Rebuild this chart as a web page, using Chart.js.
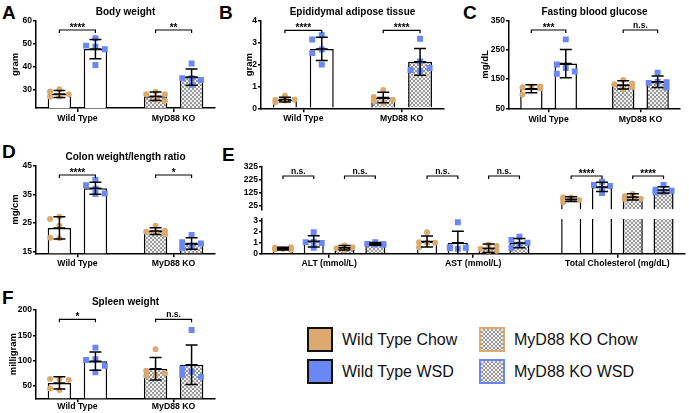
<!DOCTYPE html>
<html>
<head>
<meta charset="utf-8">
<script src="https://cdn.jsdelivr.net/npm/chart.js@4.4.1/dist/chart.umd.min.js"></script>
<style>
  body { margin: 0; background: #fff; font-family: 'Liberation Sans', Arial, sans-serif; }
  #page { position: relative; width: 689px; height: 413px; overflow: hidden; }
  #page canvas { position: absolute; }
  .tag { position: absolute; font-size: 19px; font-weight: bold; line-height: 1; color: #000; }
  .key { position: absolute; display: flex; align-items: center; height: 25px; font-size: 16px; color: #111; white-space: nowrap; }
  .sw { width: 22px; height: 21px; border: 2px solid #111; margin-right: 9px; }
  .hatch { background: repeating-conic-gradient(#9a9a9a 0 25%, #f0f0f0 0 50%) 0 0 / 4px 4px; }
</style>
</head>
<body>
<div id="page">
  <div class="tag" style="left:2px;top:2.5px">A</div>
  <div class="tag" style="left:219px;top:2.5px">B</div>
  <div class="tag" style="left:463px;top:2.5px">C</div>
  <div class="tag" style="left:2px;top:141.5px">D</div>
  <div class="tag" style="left:222px;top:145px">E</div>
  <div class="tag" style="left:2px;top:288px">F</div>
</div>
<script>
'use strict';
// =============== data ===============
const categories = ['Wild Type', 'MyD88 KO'];
const groups = ['Wild Type Chow', 'Wild Type WSD', 'MyD88 KO Chow', 'MyD88 KO WSD'];

// A - body weight (gram)
const bodyMean = [28.3, 47.7, 27.3, 35.6];
const bodySd = [1.5, 4.2, 1.8, 3.5];
const bodyPoints = [
    [30.3, 27.1, 28.1, 29.3, 27.2],
    [52.4, 49.2, 48.7, 47.6, 40.8],
    [29.2, 28.1, 28.2, 25.8, 25.3],
    [41.5, 35.1, 35.1, 34.3, 32.2]
];
const bodyTicks = [30, 40, 50, 60];
const bodyStars = ['****', '**'];

// B - epididymal adipose tissue (gram)
const fatMean = [0.40, 2.72, 0.50, 2.13];
const fatSd = [0.11, 0.53, 0.24, 0.61];
const fatPoints = [
    [0.57, 0.28, 0.40, 0.36, 0.38],
    [3.35, 3.15, 2.69, 2.53, 2.00],
    [0.84, 0.28, 0.52, 0.38, 0.35],
    [3.19, 2.15, 1.72, 1.75, 1.85]
];
const fatTicks = [0, 1, 2, 3, 4];
const fatStars = ['****', '****'];

// C - fasting blood glucose (mg/dL)
const glucoseMean = [117, 203, 130, 141];
const glucoseSd = [14, 48, 14, 20];
const glucosePoints = [
    [124, 97, 118, 121, 125],
    [286, 188, 200, 176, 168],
    [147, 116, 132, 122, 135],
    [172, 141, 137, 121, 139]
];
const glucoseTicks = [50, 150, 250, 350];
const glucoseStars = ['***', 'n.s.'];

// D - colon weight/length ratio (mg/cm)
const colonMean = [23.3, 37.1, 22.2, 17.9];
const colonSd = [3.9, 2.1, 1.2, 2.0];
const colonPoints = [
    [27.2, 26.4, 24.1, 19.7, 19.9],
    [40.0, 38.2, 35.1, 35.3, 37.0],
    [24.1, 22.0, 22.3, 21.9, 21.0],
    [20.8, 18.3, 16.6, 17.9, 16.2]
];
const colonTicks = [15, 25, 35, 45];
const colonStars = ['****', '*'];

// E - serum markers, broken axis
const serumLabels = ['ALT (mmol/L)', 'AST (mmol/L)', 'Total Cholesterol (mg/dL)'];
const altMean = [0.46, 1.13, 0.55, 0.90];
const altSd = [0.12, 0.52, 0.20, 0.12];
const altPoints = [
    [0.42, 0.55, 0.58, 0.35, 0.38],
    [1.96, 1.10, 1.05, 0.98, 0.55],
    [0.75, 0.50, 0.60, 0.35, 0.55],
    [1.05, 0.90, 0.82, 0.85, 0.88]
];
const astMean = [1.12, 1.00, 0.50, 0.97];
const astSd = [0.50, 1.06, 0.38, 0.42];
const astPoints = [
    [1.96, 1.00, 1.05, 1.00, 0.60],
    [2.88, 0.45, 0.60, 0.55, 0.50],
    [0.85, 0.45, 0.25, 0.20, 0.70],
    [1.56, 1.25, 1.00, 0.85, 0.55]
];
const cholMean = [78, 171, 95, 148];
const cholSd = [18, 35, 24, 24];
const cholPoints = [
    [90, 93, 72, 55, 75],
    [211, 185, 179, 124, 157],
    [118, 80, 82, 100, 95],
    [185, 133, 150, 142, 129]
];
const serumTopTicks = [25, 125, 225, 325];
const serumLowTicks = [0, 1, 2, 3];
const serumStars = ['n.s.', 'n.s.', 'n.s.', 'n.s.', '****', '****'];

// F - spleen weight (milligram)
const spleenMean = [56, 99, 84, 92];
const spleenSd = [12, 18, 22, 39];
const spleenPoints = [
    [64, 64, 42, 45, 62],
    [125.7, 102.7, 101.4, 77, 90],
    [122.5, 71.7, 80, 75, 70],
    [160.7, 78, 84, 68, 72]
];
const spleenTicks = [50, 100, 150, 200];
const spleenStars = ['*', 'n.s.'];

// =============== look ===============
const fam = "'Liberation Sans', Arial, sans-serif";
const tan = '#DCAA6E';
const blue = '#6987F5';
const GAP = 2.67;     // genotype group spacing, in bar steps
const E_GAP = 4.68;   // serum marker spacing, in bar steps
const page = document.getElementById('page');

function makeChecker() {
    const c = document.createElement('canvas');
    c.width = c.height = 4;
    const g = c.getContext('2d');
    g.fillStyle = '#f0f0f0';
    g.fillRect(0, 0, 4, 4);
    g.fillStyle = '#9a9a9a';
    g.fillRect(0, 0, 2, 2);
    g.fillRect(2, 2, 2, 2);
    return g.createPattern(c, 'repeat');
}
const checker = makeChecker();

// spread points sideways when they sit on top of each other
function swarm(vals, pxY, step) {
    const placed = [];
    return vals.map(v => {
        const py = v * pxY;
        let best = 0, bestD = -1;
        for (const k of [0, -1, 1]) {
            const d = Math.min(Infinity, ...placed.map(p => Math.hypot(p.px - k * step, p.py - py)));
            if (d >= step * 0.9) { best = k; break; }
            if (d > bestD) { bestD = d; best = k; }
        }
        placed.push({ px: best * step, py });
        return best * step;
    });
}

// =============== plugins ===============
const errorBars = {
    id: 'errorBars',
    afterDatasetsDraw(chart) {
        const { ctx, chartArea: a, scales: { x, y } } = chart;
        const ds = chart.data.datasets[0];
        ctx.save();
        ctx.beginPath();
        ctx.rect(a.left, a.top, a.right - a.left, a.bottom - a.top);
        ctx.clip();
        ctx.strokeStyle = '#000';
        ctx.lineWidth = 1.5;
        ds.data.forEach((d, i) => {
            const px = x.getPixelForValue(d.x);
            const hi = y.getPixelForValue(d.y + ds.sd[i]);
            const mid = y.getPixelForValue(d.y);
            const lo = y.getPixelForValue(d.y - ds.sd[i]);
            ctx.beginPath();
            ctx.moveTo(px, hi); ctx.lineTo(px, lo);
            [hi, mid, lo].forEach(py => { ctx.moveTo(px - 6, py); ctx.lineTo(px + 6, py); });
            ctx.stroke();
        });
        ctx.restore();
    }
};

const brackets = {
    id: 'brackets',
    afterDatasetsDraw(chart, args, opts) {
        if (!opts.pairs) return;
        const { ctx, chartArea: a, scales: { x } } = chart;
        const y = a.top + 9.3;
        ctx.save();
        ctx.strokeStyle = '#000';
        ctx.fillStyle = '#000';
        ctx.lineWidth = 1.2;
        ctx.textAlign = 'center';
        opts.pairs.forEach(([p, q], i) => {
            const xa = x.getPixelForValue(p), xb = x.getPixelForValue(q);
            ctx.beginPath();
            ctx.moveTo(xa, y + 3); ctx.lineTo(xa, y); ctx.lineTo(xb, y); ctx.lineTo(xb, y + 3);
            ctx.stroke();
            const t = opts.labels[i];
            const stars = t.includes('*');
            ctx.font = 'bold ' + (stars ? 10 : 8.5) + 'px ' + fam;
            ctx.fillText(t, (xa + xb) / 2, stars ? y + 0.5 : y - 2.5);
        });
        ctx.restore();
    }
};

// =============== panel builder ===============
function makePanel(o) {
    const [bl, bt, bw, bh] = o.box;
    const [al, at, ar, ab] = o.area;
    const cv = document.createElement('canvas');
    cv.width = bw;
    cv.height = bh;
    cv.style.left = bl + 'px';
    cv.style.top = bt + 'px';
    page.appendChild(cv);

    const pxX = (ar - al) / (o.xRange[1] - o.xRange[0]);
    const pxY = (ab - at) / (o.yRange[1] - o.yRange[0]);

    const datasets = [{
        type: 'bar',
        order: 1,
        clip: 0,
        data: o.bars.map((x, i) => ({ x, y: o.mean[i] })),
        sd: o.sd,
        backgroundColor: o.group.map(g => g < 2 ? '#fff' : checker),
        borderColor: '#000',
        borderWidth: 1.5,
        barPercentage: 0.65,
        categoryPercentage: 1
    }];
    o.points.forEach((vals, i) => {
        const off = swarm(vals, pxY, 0.26 * pxX);
        const chow = o.group[i] % 2 === 0;
        datasets.push({
            type: 'scatter',
            order: 0,
            data: vals.map((v, k) => ({ x: o.bars[i] + off[k] / pxX, y: v })),
            pointStyle: chow ? 'circle' : 'rect',
            pointRadius: chow ? 3 : 4.2,
            backgroundColor: chow ? tan : blue,
            borderWidth: 0
        });
    });

    const tickFont = { family: fam, size: 8.5, weight: 'bold' };
    new Chart(cv, {
        type: 'bar',
        data: { datasets },
        options: {
            responsive: false,
            animation: false,
            devicePixelRatio: 1,
            events: [],
            layout: {
                padding: {
                    left: 0,
                    right: bl + bw - ar,
                    top: o.title ? 0 : at - bt,
                    bottom: o.xLabels ? 0 : bt + bh - ab
                }
            },
            plugins: {
                legend: { display: false },
                tooltip: { enabled: false },
                title: o.title ? {
                    display: true, text: o.title, fullSize: false, color: '#000',
                    font: { family: fam, size: 10, weight: 'bold' },
                    padding: { top: o.titleY - bt - 6, bottom: at - o.titleY - 6 }
                } : { display: false },
                brackets: { pairs: o.pairs, labels: o.stars }
            },
            scales: {
                x: {
                    type: 'linear',
                    display: !!o.xLabels,
                    min: o.xRange[0],
                    max: o.xRange[1],
                    offset: false,
                    afterBuildTicks: s => { s.ticks = o.xTicks.map(value => ({ value })); },
                    afterFit: s => { s.height = bt + bh - ab; },
                    ticks: {
                        callback: (v, i) => o.xLabels[i],
                        autoSkip: false, maxRotation: 0, padding: o.xPad, color: '#000',
                        font: { family: fam, size: 8.7, weight: 'bold' }
                    },
                    grid: { drawOnChartArea: false, offset: false, tickLength: 4, color: '#000', lineWidth: 1.5 },
                    border: { color: '#000', width: 1.5 }
                },
                y: {
                    type: 'linear',
                    min: o.yRange[0],
                    max: o.yRange[1],
                    afterBuildTicks: s => { s.ticks = o.yTicks.map(value => ({ value })); },
                    afterFit: s => { s.width = al - bl; },
                    ticks: { callback: v => String(v), autoSkip: false, padding: 1, color: '#000', font: tickFont },
                    grid: { drawOnChartArea: false, tickLength: 3, color: '#000', lineWidth: 1.5 },
                    border: { color: '#000', width: 1.5 },
                    title: o.yTitle ? {
                        display: true, text: o.yTitle, color: '#000',
                        font: { family: fam, size: 9.5, weight: 'bold' },
                        padding: { top: o.yTitleX - bl - 5.7, bottom: 0 }
                    } : { display: false }
                }
            }
        },
        plugins: [errorBars, brackets]
    });
}

// =============== panels ===============
const pairBars = [0, 1, GAP, GAP + 1];
const pairBase = {
    bars: pairBars,
    group: [0, 1, 2, 3],
    xRange: [-0.65, GAP + 1.65],
    xTicks: [0.5, GAP + 0.5],
    xLabels: categories,
    pairs: [[pairBars[0], pairBars[1]], [pairBars[2], pairBars[3]]]
};

makePanel(Object.assign({}, pairBase, {
    box: [0, 0, 225, 132], area: [36, 20.7, 215, 108], xPad: 1.8,
    title: 'Body weight', titleY: 12, yTitle: 'gram', yTitleX: 15,
    yRange: [22.2, 60], yTicks: bodyTicks,
    mean: bodyMean, sd: bodySd, points: bodyPoints, stars: bodyStars
}));

makePanel(Object.assign({}, pairBase, {
    box: [225, 0, 230, 132], area: [261, 21, 444, 108.3], xPad: 1.2,
    title: 'Epididymal adipose tissue', titleY: 12.5, yTitle: 'gram', yTitleX: 249,
    yRange: [0, 4], yTicks: fatTicks,
    mean: fatMean, sd: fatSd, points: fatPoints, stars: fatStars
}));

makePanel(Object.assign({}, pairBase, {
    box: [450, 0, 239, 132], area: [509, 20.7, 680, 108.3], xPad: 1.6,
    title: 'Fasting blood glucose', titleY: 12.5, yTitle: 'mg/dL', yTitleX: 485,
    yRange: [50, 350], yTicks: glucoseTicks,
    mean: glucoseMean, sd: glucoseSd, points: glucosePoints, stars: glucoseStars
}));

makePanel(Object.assign({}, pairBase, {
    box: [0, 135, 225, 140], area: [36, 165.7, 215, 253.3], xPad: 1.0,
    title: 'Colon weight/length ratio', titleY: 157.7, yTitle: 'mg/cm', yTitleX: 15,
    yRange: [14.45, 45], yTicks: colonTicks,
    mean: colonMean, sd: colonSd, points: colonPoints, stars: colonStars
}));

makePanel(Object.assign({}, pairBase, {
    box: [0, 280, 225, 133], area: [36, 310, 215, 398.3], xPad: -0.6,
    title: 'Spleen weight', titleY: 302.7, yTitle: 'milligram', yTitleX: 13,
    yRange: [25.7, 200], yTicks: spleenTicks,
    mean: spleenMean, sd: spleenSd, points: spleenPoints, stars: spleenStars
}));

// E: two stacked charts make the broken axis
const serumBars = [];
const serumGroup = [];
serumLabels.forEach((s, c) => groups.forEach((g, k) => { serumBars.push(c * E_GAP + k); serumGroup.push(k); }));
const serumPairs = [];
serumLabels.forEach((s, c) => { serumPairs.push([c * E_GAP, c * E_GAP + 1], [c * E_GAP + 2, c * E_GAP + 3]); });
const serumX = [-0.68, 2 * E_GAP + 3.69];

makePanel({
    box: [225, 135, 464, 87], area: [262, 166.7, 687, 215.7],
    bars: serumBars.slice(8), group: serumGroup.slice(8),
    xRange: serumX, xTicks: [],
    yRange: [0, 325], yTicks: serumTopTicks,
    mean: cholMean, sd: cholSd, points: cholPoints,
    pairs: serumPairs, stars: serumStars
});

makePanel({
    box: [225, 212, 464, 63], area: [262, 219, 687, 253.7], xPad: 0.6,
    bars: serumBars, group: serumGroup,
    xRange: serumX, xTicks: serumLabels.map((s, c) => c * E_GAP + 1.5), xLabels: serumLabels,
    yRange: [0, 3.18], yTicks: serumLowTicks,
    mean: altMean.concat(astMean, cholMean),
    sd: altSd.concat(astSd, cholSd),
    points: altPoints.concat(astPoints, cholPoints)
});

// =============== legend ===============
const keySpots = [[307, 327], [307, 359], [479, 327], [479, 359]];
groups.forEach((name, i) => {
    const key = document.createElement('div');
    key.className = 'key';
    key.style.left = keySpots[i][0] + 'px';
    key.style.top = keySpots[i][1] + 'px';
    const sw = document.createElement('span');
    sw.className = 'sw';
    if (i < 2) {
        sw.style.background = i === 0 ? tan : blue;
    } else {
        sw.classList.add('hatch');
        sw.style.borderColor = i === 2 ? tan : blue;
    }
    key.appendChild(sw);
    key.appendChild(document.createTextNode(name));
    page.appendChild(key);
});
</script>
</body>
</html>
